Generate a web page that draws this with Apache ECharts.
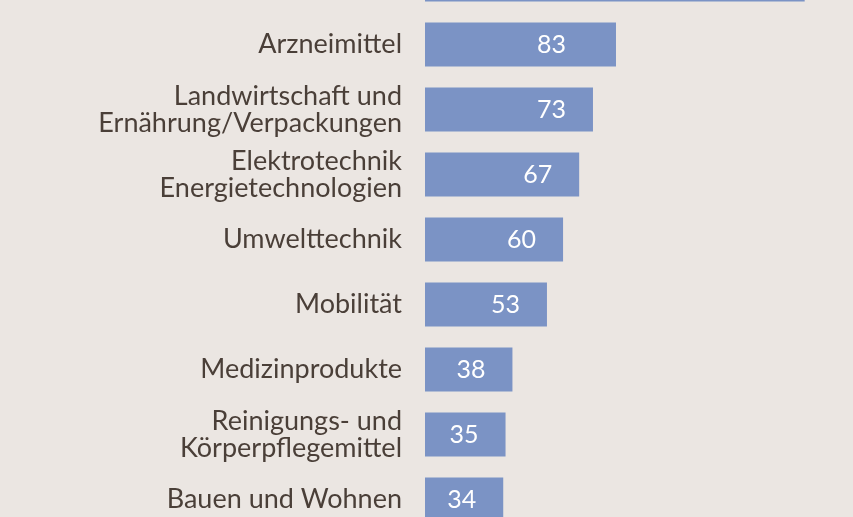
<!DOCTYPE html>
<html><head><meta charset="utf-8">
<script src="https://cdn.jsdelivr.net/npm/echarts@6/dist/echarts.min.js"></script>
<style>html,body{margin:0;padding:0;background:#ebe6e2;overflow:hidden;width:853px;height:517px;position:relative}#c{position:absolute;left:0;top:-53px;width:853px;height:585px}</style>
</head><body><div id="c"></div>
<script>
const categories = ["Chemie", "Arzneimittel", "Landwirtschaft und\nErnährung/Verpackungen", "Elektrotechnik\nEnergietechnologien", "Umwelttechnik", "Mobilität", "Medizinprodukte", "Reinigungs- und\nKörperpflegemittel", "Bauen und Wohnen"];
const values = [165, 83, 73, 67, 60, 53, 38, 35, 34];

const chart = echarts.init(document.getElementById('c'));
chart.setOption({
  backgroundColor: '#ebe6e2',
  animation: false,
  grid: { left: 425, right: 2.3, top: 0, bottom: 0, containLabel: false },
  xAxis: { type: 'value', min: 0, max: 185, show: false },
  yAxis: {
    type: 'category', inverse: true, data: categories,
    axisLine: { show: false }, axisTick: { show: false },
    axisLabel: { color: '#4a3f38', fontFamily: 'Lato', fontSize: 27, lineHeight: 27, margin: 23, align: 'right' }
  },
  series: [{
    type: 'bar', barWidth: 44,
    itemStyle: { color: '#7b93c5' },
    label: { show: true, position: 'insideRight', distance: 27, color: '#ffffff', fontFamily: 'Lato', fontSize: 25 },
    data: values.map((v, i) => i === 1 ? { value: v, label: { offset: [-23, 0] } } : v)
  }]
});
</script></body></html>
